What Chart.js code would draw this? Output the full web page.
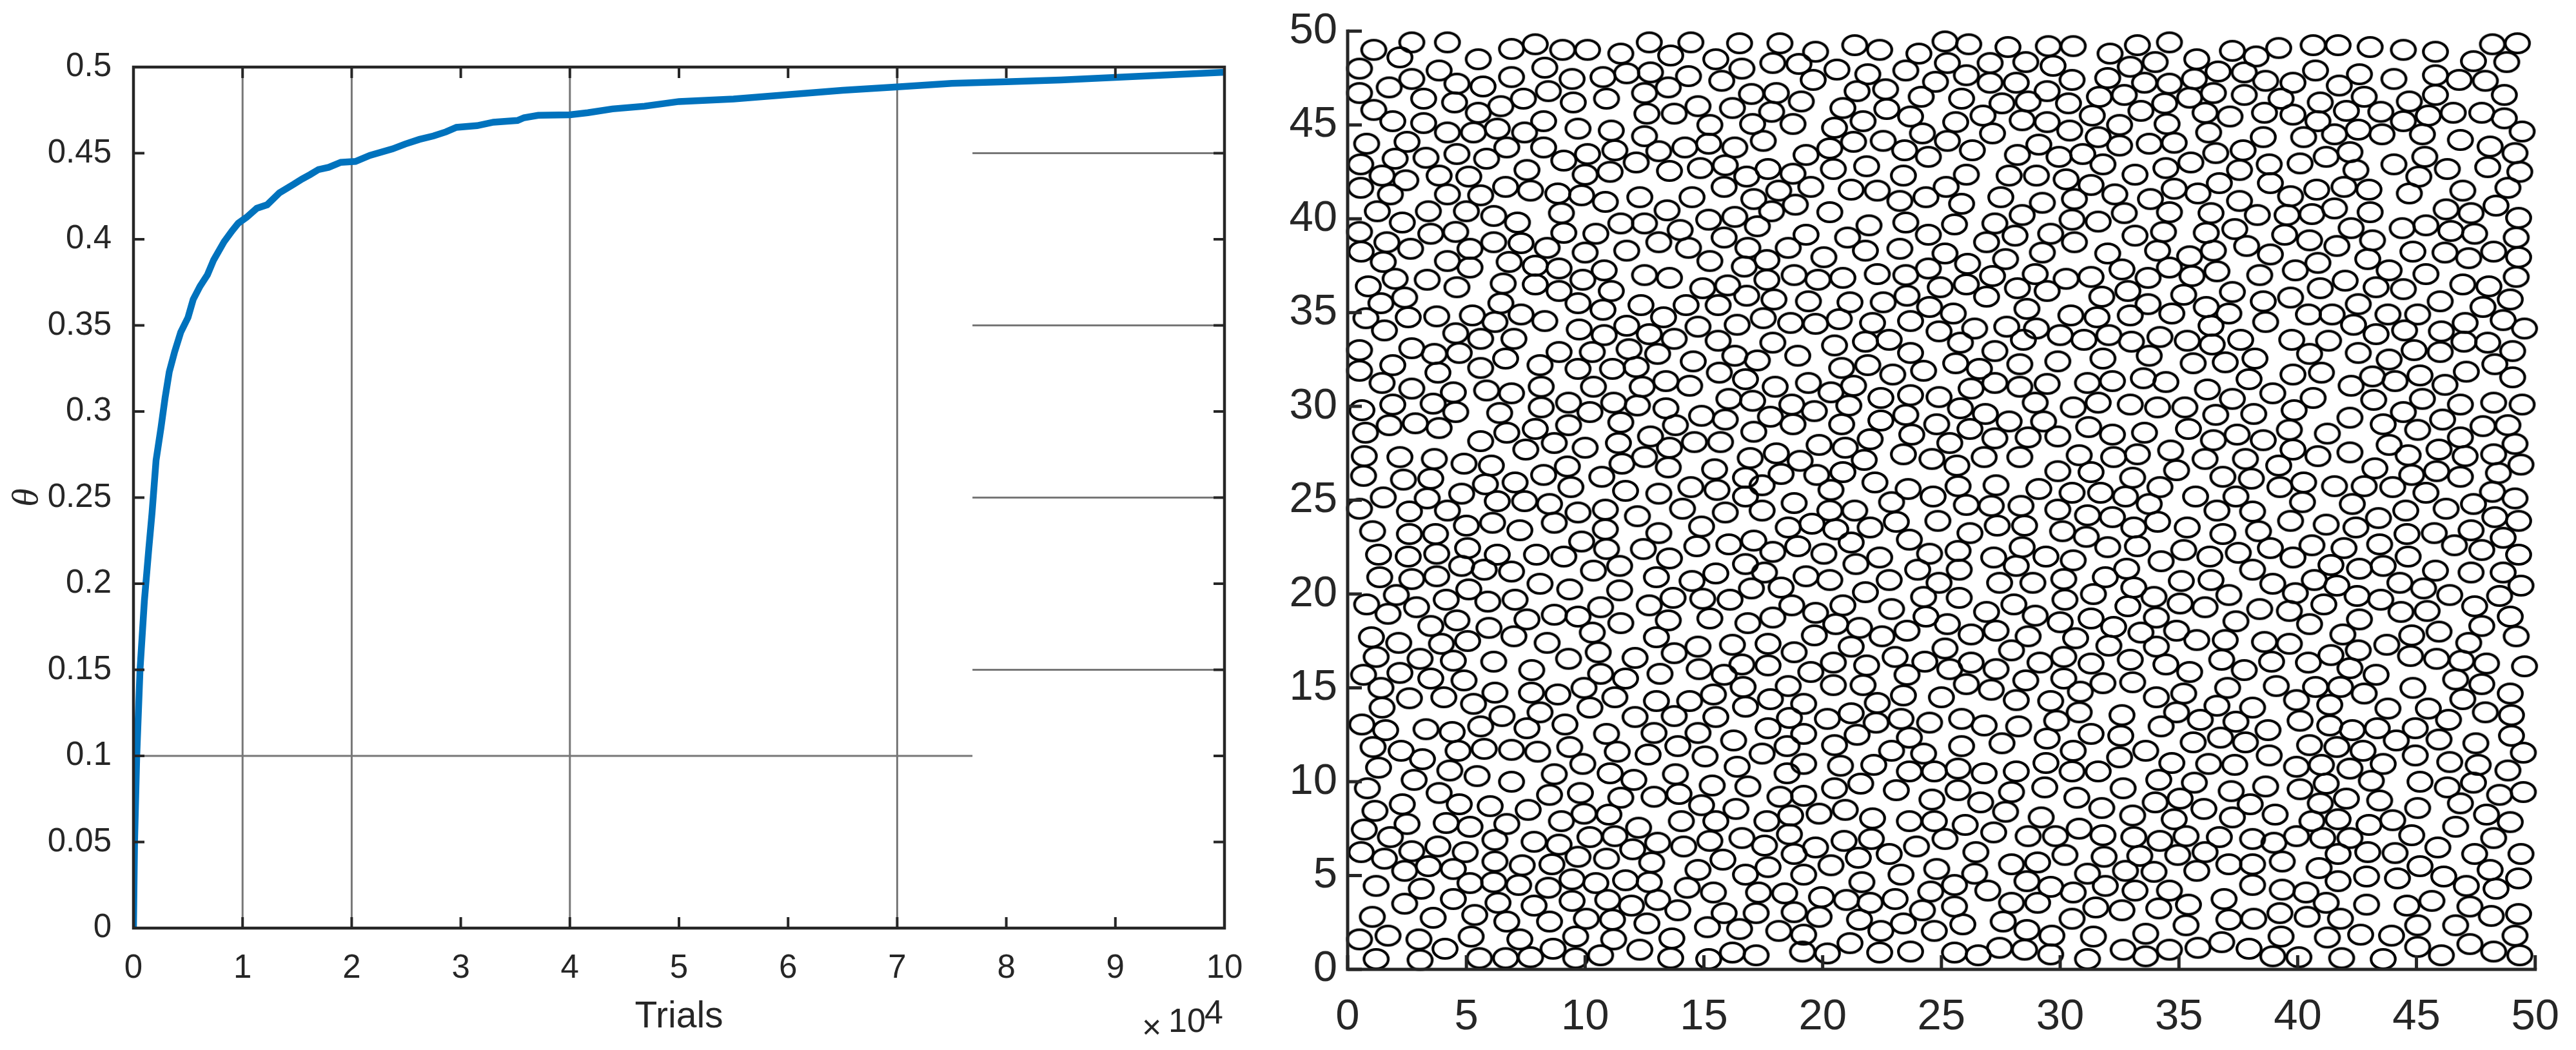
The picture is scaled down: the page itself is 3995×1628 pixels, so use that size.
<!DOCTYPE html>
<html>
<head>
<meta charset="utf-8">
<script src="https://cdn.jsdelivr.net/npm/chart.js@4"></script>
<style>
  html, body { margin: 0; padding: 0; background: #fff; overflow: hidden; }
  canvas { position: absolute; top: 0; }
  #curve-chart { left: 0; }
  #packing-chart { left: 2000px; }
</style>
</head>
<body>
<canvas id="curve-chart" width="1980" height="1628"></canvas>
<canvas id="packing-chart" width="1995" height="1628"></canvas>
<script>
// left panel, x in units of 10^4 trials
const trialsX = [0,0.01,0.03,0.06,0.1,0.14,0.17,0.207,0.2525,0.29,0.328,0.377,0.433,0.5,0.547,0.61,0.678,0.735,0.83,0.905,0.96,1.037,1.13,1.225,1.338,1.47,1.545,1.62,1.696,1.79,1.9,2.035,2.167,2.375,2.49,2.62,2.75,2.865,2.96,3.15,3.3,3.52,3.58,3.71,4,4.165,4.39,4.685,5,5.5,6,6.5,7,7.5,8,8.5,9,9.5,10];
const thetaY = [0,0.05,0.1,0.15,0.19,0.22,0.241,0.2716,0.2907,0.308,0.323,0.3346,0.346,0.3546,0.365,0.3727,0.3794,0.388,0.3985,0.405,0.4093,0.4128,0.418,0.42,0.427,0.432,0.435,0.4376,0.4405,0.4418,0.4447,0.4452,0.4487,0.4525,0.4553,0.458,0.46,0.4624,0.465,0.466,0.468,0.469,0.4706,0.472,0.4723,0.4735,0.4757,0.4773,0.48,0.4815,0.484,0.4865,0.4885,0.4905,0.4915,0.4925,0.494,0.4955,0.497];
const leftXLabels = ['0','1','2','3','4','5','6','7','8','9','10'];
const leftYLabels = ['0','0.05','0.1','0.15','0.2','0.25','0.3','0.35','0.4','0.45','0.5'];
const gridTrials = [1,2,4,7];
const gridThetaFull = [0.1];
const gridThetaRight = [0.15,0.25,0.35,0.45];
const gridBreakX = 7.69;

// right panel, circle centres
const packingLabels = ['0','5','10','15','20','25','30','35','40','45','50'];
const circles = [
[2.7,49.4],[4.2,49.4],[1.1,49],[2.2,48.6],[0.5,48],[5.5,48.5],[6.9,49.05],[7.9,49.3],[9.05,49],[10.1,49],[11.5,48.8],[12.7,49.4],[13.6,48.7],[14.45,49.4],[15.5,48.5],[16.5,49.35],[8.3,48.05],[3.85,47.9],[2.7,47.45],[1.75,47],[0.5,46.7],[4.6,47.2],[5.7,47.05],[6.9,47.55],[9.45,47.45],[10.75,47.55],[11.75,47.75],[12.75,47.8],[14.35,47.6],[13.5,47],[12.5,46.7],[15.75,47.35],[8.45,46.8],[7.4,46.4],[3.2,46.4],[4.5,46.2],[6.45,46],[5.5,45.65],[9.5,46.2],[10.9,46.4],[1.1,45.8],[1.9,45.2],[3.2,45.1],[12.6,45.6],[13.75,45.6],[14.75,46],[16.2,45.9],[8.25,45.2],[15.25,45],[9.7,44.8],[11.1,44.7],[6.3,44.8],[4.2,44.6],[5.3,44.6],[7.45,44.6],[12.5,44.4],[2.5,44.1],[0.8,44],[6.7,43.8],[8.25,43.8],[14.2,43.8],[15.2,44],[16.3,43.8],[13.1,43.6],[11.25,43.65],[10.1,43.45],[4.6,43.45],[3.3,43.25],[2,43.2],[5.85,43.2],[9.1,43.1],[0.55,42.9],[12.15,43],[15.9,42.85],[14.85,42.7],[13.55,42.55],[7.55,42.6],[11.05,42.5],[10,42.35],[1.45,42.3],[3.85,42.3],[5.1,42.25],[2.45,42.05],[15.85,41.7],[0.55,41.65],[6.65,41.7],[7.7,41.5],[8.85,41.35],[9.85,41.25],[1.8,41.3],[4.2,41.3],[5.6,41.25],[10.85,40.9],[12.3,41.15],[14.5,41.15],[13.45,40.45],[1.25,40.4],[3.4,40.4],[5,40.4],[9,40.3],[6.15,40.15],[15.2,39.95],[16.3,40.1],[7.15,39.8],[2.3,39.8],[11.5,39.75],[12.5,39.75],[14,39.4],[0.5,39.3],[4.55,39.3],[3.5,39.2],[9.1,39.25],[10.45,39.2],[15.85,39],[1.65,38.75],[6.15,38.75],[7.3,38.7],[13.1,38.75],[2.65,38.4],[0.57,38.25],[5.15,38.4],[8.4,38.45],[14.35,38.45],[11.75,38.3],[10,38.2],[15.25,37.75],[1.5,37.7],[4.2,37.75],[6.8,37.7],[7.9,37.5],[5.15,37.4],[8.9,37.35],[10.8,37.25],[12.5,37],[13.55,36.85],[2,36.8],[3.35,36.75],[9.9,36.75],[6.55,36.55],[7.9,36.5],[0.87,36.4],[4.6,36.35],[14.95,36.3],[16,36.45],[8.9,36.15],[11.1,36.15],[2.4,35.8],[1.4,35.5],[6.45,35.5],[9.7,35.5],[12.35,35.4],[14.25,35.4],[15.6,35.4],[10.75,35.15],[7.3,34.9],[5.25,34.85],[0.77,34.7],[2.55,34.75],[3.75,34.8],[6.2,34.5],[8.3,34.55],[13.3,34.75],[11.75,34.3],[14.75,34.25],[16.4,34.35],[9.75,34.1],[1.55,34.05],[4.55,33.9],[10.8,33.8],[12.7,33.85],[5.6,33.6],[7,33.6],[13.75,33.6],[15.6,33.5],
[0.5,33],[2.7,33.1],[3.65,32.8],[4.7,32.85],[8.9,32.9],[10.3,32.9],[11.85,33.05],[13.05,32.8],[14.55,32.4],[16.3,32.7],[6.65,32.55],[1.9,32.2],[0.5,31.9],[3.8,31.8],[5.6,32.05],[8.1,32.2],[9.7,32],[11.15,32],[12.15,32.1],[15.65,31.8],[1.45,31.25],[2.7,30.95],[13.4,31.35],[14.4,31.1],[12.4,31.05],[10.35,31.05],[8.15,31.05],[5.85,30.85],[6.9,30.7],[4.45,30.75],[16.05,30.4],[9.3,30.2],[11.2,30.2],[3.6,30.15],[1.9,30.1],[12.2,30.05],[8.15,29.95],[13.4,29.9],[0.6,29.8],[4.55,29.7],[10.2,29.7],[6.4,29.65],[14.9,29.5],[15.9,29.3],[2.85,29.1],[1.75,29],[11.5,29.15],[3.85,28.85],[13.8,29],[9.3,29],[7.9,28.8],[0.75,28.6],[6.7,28.6],[12.75,28.4],[5.6,28.15],[8.7,28.05],[11.4,28.05],[14.6,28.1],[15.7,28.1],[10,27.8],[13.55,27.8],[7.5,27.7],[0.7,27.35],[2.2,27.3],[12.5,27.3],[3.65,27.2],[11.55,26.95],[4.9,26.95],[6.05,26.85],[9.25,26.8],[13.5,26.75],[15.45,26.65],[8.25,26.35],[0.67,26.3],[10.7,26.25],[3.5,26.15],[2.35,26.1],[5.8,25.85],[7.05,25.95],[9.4,25.7],[14.45,25.7],[15.55,25.55],[11.7,25.5],[13.1,25.35],[4.8,25.35],[1.5,25.15],[3.35,25.1],[6.3,24.95],[7.45,24.95],[8.5,24.8],[0.5,24.55],[2.6,24.4],[10.85,24.5],[9.7,24.35],[4.2,24.45],[14.1,24.55],[15.9,24.35],[12.2,24.15],[6.1,23.8],[8.7,23.8],[5,23.65],[14.9,23.6],[1.05,23.35],[7.25,23.4],[10.85,23.45],[2.6,23.2],[3.7,23.2],[13.1,23.25],[9.85,22.8],[16.05,22.65],[14.7,22.55],[5.05,22.45],[10.9,22.4],[12.45,22.4],[1.3,22.1],[7.95,22.1],[2.55,22],[3.75,22.15],[6.3,22.1],[9.1,22],[13.55,21.9],[4.8,21.5],[11.45,21.5],[5.75,21.3],[6.9,21.2],[10.35,21.25],[15.5,21.1],[1.35,20.9],[3.75,20.95],[2.7,20.8],[13,20.9],[14.5,20.7],[8.1,20.55],[5.1,20.25],[9.35,20.25],[11.45,20.2],[2.05,19.95],[13.7,19.8],[14.95,19.75],[16.1,19.7],[4.15,19.7],[7.05,19.7],[5.9,19.6],[0.8,19.45],[12.7,19.4],[10.65,19.3],[2.9,19.3],[1.7,18.95],[8.7,18.9],[9.7,18.8],[15.25,18.7],[7.55,18.65],[4.6,18.6],[13.5,18.6],[11.5,18.45],[5.95,18.2],[3.5,18.3],[10.3,17.95],[7,17.75],[1,17.7],[13,17.7],[5.05,17.5],[8.4,17.4],[3.95,17.35],[2.15,17.4],[14.75,17.2],[16.2,17.3],[10.55,16.9],[1.2,16.65],[3.05,16.55],[13.75,16.85],[12.1,16.6],[9.3,16.55],[6.15,16.4],[4.45,16.45],
[16.6,16.25],[17.7,16.2],[14.8,16],[0.67,15.7],[2.2,15.8],[3.5,15.5],[4.9,15.4],[7.75,15.95],[10.65,15.75],[11.7,15.5],[13.15,15.75],[15.85,15.7],[18.55,15.1],[16.65,15.05],[1.4,15],[9.95,15],[6.2,14.75],[7.74,14.75],[8.85,14.65],[15.4,14.65],[2.6,14.45],[4.05,14.5],[11.25,14.5],[13,14.3],[14.4,14.3],[17.8,14.4],[5.3,14.15],[1.45,13.95],[10.2,13.95],[16.75,14],[19.2,14.15],[8.1,13.7],[6.5,13.5],[12.1,13.45],[13.75,13.5],[15.5,13.45],[18.6,13.4],[0.6,13.05],[9.15,13.05],[5.6,12.95],[7.55,12.85],[1.6,12.75],[3.3,12.8],[4.4,12.65],[10.9,12.55],[12.9,12.6],[14.75,12.6],[17.7,12.85],[16.25,12.2],[19.2,12.55],[1.07,11.85],[9.35,11.85],[13.9,11.9],[18.5,11.9],[5.75,11.75],[2.25,11.65],[6.9,11.7],[4.65,11.65],[8,11.6],[11.35,11.6],[12.65,11.45],[17.45,11.5],[15.05,11.35],[3.15,11.2],[9.9,10.95],[19.2,10.95],[16.4,10.8],[1.3,10.75],[4.3,10.6],[11.05,10.45],[13.8,10.4],[18.5,10.45],[8.7,10.4],[5.45,10.3],[12.05,10.1],[2.8,10.1],[6.9,10],[15.35,9.8],[16.85,9.75],[0.83,9.65],[3.85,9.4],[9.8,9.4],[13.95,9.35],[8.5,9.3],[12.9,9.2],[11.5,9.15],[18.2,9.2],[19.2,9.25],[2.3,8.8],[4.7,8.8],[14.9,8.75],[6,8.7],[1.15,8.45],[7.6,8.5],[16.35,8.55],[9.95,8.3],[11,8.25],[18.65,8.2],[9,7.9],[14.05,7.9],[15.5,7.9],[17.65,7.9],[2.5,7.75],[4.15,7.8],[6.7,7.75],[5.15,7.6],[12.25,7.55],[0.7,7.45],[18.6,7.2],[1.8,7.05],[10.2,7.05],[11.25,7.1],[16.6,7],[6.2,6.9],[15.25,6.85],[7.85,6.8],[13.05,6.75],[8.9,6.65],[14.15,6.55],[17.55,6.6],[3.8,6.55],[12,6.4],[0.57,6.25],[2.7,6.3],[4.95,6.25],[18.8,6.15],[1.55,5.9],[9.7,6],[10.9,5.9],[15.8,5.85],[6.2,5.75],[12.8,5.7],[7.35,5.55],[8.6,5.6],[3.4,5.5],[17.7,5.45],[2.4,5.25],[4.45,5.35],[14.75,5.3],[16.75,5.05],[19.2,5.05],[9.45,4.8],[11.7,4.75],[6.15,4.65],[5.15,4.6],[12.7,4.65],[10.45,4.6],[7.2,4.5],[1.2,4.45],[3.1,4.3],[8.45,4.35],[14.3,4.35],[15.4,4.1],[17.3,4.1],[18.4,4.05],[4.45,3.75],[13.05,3.7],[10.95,3.7],[9.45,3.65],[6.33,3.55],[2.4,3.5],[7.85,3.4],[11.95,3.4],[13.9,3.15],[15.85,3],[17.2,3],[18.8,3.05],[10.05,2.7],[1.04,2.8],[5.35,2.9],[3.6,2.75],[11.15,2.65],[6.7,2.55],[8.5,2.55],[12.6,2.45],[15.15,2.25],[16.5,2.15],[18.15,2.05],[1.7,1.8],[9.6,1.75],[5.2,1.75],[13.65,1.65],[7.25,1.6],[11.2,1.6],[3,1.6],[0.5,1.6],[19.2,1.85],[4.1,1.1],[8.65,1.1],[12.3,1.05],[10.65,0.75],[16.2,0.9],[17.2,0.75],[19.15,0.95],[5.55,0.6],[6.65,0.6],[7.7,0.65],[1.2,0.55],[3.05,0.5],[9.6,0.6],[13.6,0.6],[15.2,0.55],
[19.5,15.85],[20.45,16.35],[21.85,16.2],[23.55,15.7],[24.3,16.4],[25.35,16],[26.25,16.35],[27.3,16],[29.15,16.35],[31.3,16.3],[32.95,16.5],[34.45,16.25],[35.45,15.85],[36.8,16.5],[37.75,15.95],[20.45,15.15],[21.7,15.15],[30.15,15.5],[31.8,15.25],[33.05,15.3],[28.55,15.4],[26.05,15.2],[27.1,14.9],[37.05,15],[35.2,14.7],[23.4,14.6],[25,14.5],[30.85,14.8],[34.05,14.5],[22.3,14.2],[29.6,14.3],[28.15,14.35],[36.6,14.05],[38.1,13.95],[34.9,13.7],[30.8,13.7],[32.6,13.55],[21.2,13.65],[20.2,13.35],[23.3,13.35],[25.85,13.35],[29.85,13.25],[35.9,13.3],[37.4,13.2],[22.25,13.15],[24.5,13.15],[26.8,13],[28.25,12.95],[34.25,12.95],[31.3,12.55],[21.45,12.5],[32.55,12.45],[29.45,12.3],[23.65,12.35],[36.75,12.35],[27.55,12.05],[35.6,12.1],[37.8,12.1],[20.5,11.95],[25.85,11.9],[22.9,11.65],[30.55,11.65],[33.6,11.65],[24.25,11.5],[32.5,11.3],[29.4,11],[34.7,11],[36.25,10.95],[37.35,10.9],[22.15,10.9],[20.75,10.85],[25.7,10.7],[28.15,10.55],[26.8,10.45],[30.5,10.55],[24.7,10.55],[23.65,10.55],[31.6,10.55],[34.15,10.1],[35.65,9.95],[21.6,9.9],[29.35,9.7],[32.65,9.65],[20.5,9.65],[25.7,9.55],[23.1,9.55],[37.2,9.5],[27.95,9.45],[35.05,9.1],[30.7,9.15],[24.6,9.05],[34,8.9],[26.65,8.9],[38,8.8],[31.75,8.6],[36.05,8.55],[20.95,8.5],[27.7,8.4],[19.85,8.3],[33.05,8.2],[37.25,8.1],[29.2,8.1],[22.1,8.05],[34.8,8],[23.65,7.9],[24.7,7.9],[26,7.7],[30.8,7.5],[27.2,7.3],[31.8,7.15],[35.3,7.1],[29.8,7.1],[33.1,7.05],[36.7,7.05],[28.65,7.1],[22.05,6.95],[25.15,6.95],[38.1,6.95],[20.9,6.85],[34.2,6.85],[23.95,6.55],[19.7,6.5],[26.45,6.25],[36.1,6.25],[33.35,6.05],[22.8,6.15],[34.95,6.1],[30.2,6.1],[31.85,6],[21.5,5.95],[29.05,5.7],[27.95,5.6],[37.1,5.6],[38.1,5.6],[20.35,5.55],[24.8,5.35],[32.75,5.25],[33.95,5.2],[35.75,5.25],[31.15,5.1],[23.3,5.05],[26.4,5.1],[28.6,4.7],[21.65,4.65],[38.1,4.5],[25.55,4.5],[29.6,4.4],[31.9,4.45],[33.15,4.2],[24.55,4.15],[34.6,4.2],[26.95,4.2],[30.55,4.1],[36.9,3.75],[19.95,3.85],[23.05,3.75],[21,3.7],[22,3.55],[27.95,3.55],[29.05,3.55],[35.4,3.45],[25.55,3.35],[31.5,3.3],[32.6,3.15],[24.2,3.15],[34.15,3.25],[19.85,2.8],[30.5,2.7],[21.55,2.65],[37.1,2.65],[38.15,2.7],[27.6,2.55],[23.4,2.45],[25.9,2.4],[35.3,2.35],[28.6,2.1],[22.45,2.05],[24.7,2.05],[33.6,1.9],[29.65,1.8],[31.4,1.75],[21.15,1.4],[36.8,1.45],[27.45,1.15],[35.8,1.15],[37.95,1.1],[32.65,1.05],[34.6,1.05],[28.5,1.05],[23.7,0.95],[25.55,0.9],[22.4,0.9],[20.2,0.85],[29.6,0.8],[26.55,0.75],[33.6,0.7],[31.15,0.55],
[18.2,49.35],[19.7,48.9],[21.35,49.25],[22.4,49],[24.05,48.8],[25.15,49.45],[26.15,49.3],[27.8,49.15],[29.5,49.2],[30.55,49.2],[32.1,48.8],[33.25,49.25],[17.9,48.3],[19,48.25],[25.25,48.3],[27.05,48.3],[28.55,48.35],[29.7,48.15],[32.95,48.1],[16.6,48],[20.6,47.95],[23.5,47.9],[21.9,47.7],[26.05,47.65],[19.6,47.4],[24.75,47.3],[32,47.5],[27.05,47.25],[28.15,47.25],[30.5,47.4],[22.65,46.9],[21.45,46.8],[29.45,46.8],[17,46.65],[18.05,46.7],[32.7,46.6],[31.65,46.5],[24.15,46.5],[25.85,46.4],[19.1,46.25],[27.55,46.15],[28.65,46.25],[30.35,46.15],[20.85,45.9],[22.7,45.85],[17.85,45.7],[33.4,45.75],[31.35,45.5],[23.7,45.45],[26.75,45.5],[28.4,45.25],[21.7,45.2],[25.6,45.15],[29.45,45.15],[17.05,45.05],[18.75,45.05],[20.5,44.85],[32.5,45],[30.4,44.7],[27.15,44.55],[24.2,44.55],[31.6,44.35],[17.5,44.15],[22.55,44.15],[21.3,44.1],[25.25,44.15],[29.1,43.95],[20.3,43.75],[32.5,43.9],[23.45,43.65],[26.3,43.65],[19.3,43.4],[28.2,43.4],[30.95,43.45],[29.95,43.3],[24.45,43.3],[31.8,42.9],[21.85,42.8],[17.7,42.65],[20.45,42.65],[23.4,42.3],[18.75,42.4],[26.05,42.35],[27.85,42.3],[29,42.3],[33.15,42.35],[16.8,42.25],[30.25,42.1],[19.5,41.7],[25.2,41.7],[31.3,41.8],[21.2,41.55],[22.3,41.5],[18.15,41.5],[24.35,41.15],[27.5,41.15],[32.3,41.3],[17.1,41.05],[23.25,40.95],[30.6,41.05],[29.25,40.85],[18.85,40.75],[25.85,40.8],[17.85,40.4],[20.3,40.35],[28.4,40.2],[32.7,40.3],[30.5,39.95],[31.6,39.85],[23.5,39.8],[27.25,39.75],[25.55,39.7],[21.95,39.65],[17.25,39.6],[29.6,39.2],[28.1,39.1],[19.3,39.15],[33.15,39.1],[24.45,39.15],[21.05,39],[26.9,38.75],[30.6,38.75],[18.55,38.45],[16.85,38.45],[23.25,38.4],[21.8,38.3],[29.25,38.2],[25.15,38.15],[32,38.15],[20.05,37.95],[27.7,37.85],[17.65,37.8],[26.1,37.6],[24.45,37.35],[32.6,37.3],[16.7,37.45],[28.95,37.05],[22.3,37.05],[23.5,37],[18.8,37],[27.15,36.95],[30.25,36.8],[31.3,36.9],[20.85,36.85],[19.8,36.75],[17.65,36.75],[26.05,36.5],[24.95,36.35],[28.2,36.3],[32.85,36.15],[29.45,36.15],[31.75,35.85],[23.55,35.9],[16.8,35.9],[26.9,35.85],[21.15,35.55],[22.55,35.55],[17.95,35.7],[19.4,35.6],[24.5,35.3],[28.6,35.2],[30.45,34.85],[31.55,34.75],[25.5,34.95],[32.95,34.85],[23.7,34.55],[17.5,34.7],[20.7,34.65],[19.7,34.4],[18.65,34.45],[22.1,34.45],[27.75,34.25],[29,34.15],[26.4,34.15],[24.9,34],[30,33.8],[32.05,33.8],[17.9,33.4],[21.8,33.45],[22.8,33.55],[20.5,33.25],[25.8,33.4],[28.45,33.55],[31,33.55],[33,33.45],
[27.25,32.95],[23.7,32.85],[18.95,32.7],[17.25,32.45],[29.9,32.4],[31.8,32.55],[25.6,32.3],[28.3,32.25],[20.8,32.05],[21.9,32.2],[26.6,32],[24.25,31.9],[22.95,31.7],[32.2,31.35],[16.75,31.45],[31.15,31.25],[29.45,31.2],[19.4,31.25],[21.3,31.1],[18,31.05],[27.25,31.25],[28.3,31.05],[26.25,30.95],[20.35,30.75],[23.7,30.6],[22.45,30.45],[24.9,30.5],[17.05,30.3],[28.95,30.2],[31.6,30.2],[32.95,30.1],[18.7,30.1],[21.1,30.05],[30.55,29.95],[25.8,29.9],[19.65,29.75],[26.85,29.6],[23.5,29.55],[17.8,29.45],[22.45,29.25],[29.3,29.2],[27.85,29.2],[24.8,29.05],[18.75,29.05],[20.8,29.05],[31.2,28.9],[26.2,28.8],[17.1,28.65],[32.2,28.5],[23.75,28.5],[27.25,28.3],[28.65,28.35],[29.9,28.4],[22,28.25],[25.35,28.05],[19.85,27.95],[20.95,27.8],[18.05,27.5],[16.95,27.25],[23.4,27.45],[30.8,27.4],[32.25,27.3],[33.25,27.45],[26.8,27.3],[28.3,27.3],[24.6,27.2],[19.05,27.1],[21.75,27.15],[25.65,26.85],[29.9,26.55],[20.85,26.5],[31.3,26.5],[18.25,26.4],[19.75,26.35],[33.05,26.2],[16.75,26.2],[22.2,25.95],[25.7,25.75],[17.45,25.8],[27.3,25.8],[23.6,25.6],[29.1,25.6],[20.35,25.55],[30.5,25.4],[31.7,25.4],[24.65,25.2],[32.75,25.2],[16.75,25.2],[18.8,24.85],[22.9,24.9],[26.05,24.75],[27.1,24.7],[28.35,24.7],[21.35,24.45],[20.3,24.45],[29.9,24.5],[17.45,24.45],[31.15,24.2],[32.2,24.1],[24.85,23.9],[23.1,23.85],[19.55,23.75],[27.35,23.65],[28.5,23.65],[18.55,23.55],[22,23.55],[20.55,23.45],[33.1,23.55],[30.1,23.35],[26.2,23.25],[31.1,23.05],[17.1,22.85],[23.65,22.9],[21.2,22.75],[18.95,22.55],[28.4,22.5],[32,22.5],[25.7,22.3],[17.9,22.25],[24.5,22.15],[20.05,22.15],[33.25,22.55],[29.4,22],[27.2,21.95],[22.4,21.95],[30.55,21.8],[16.75,21.6],[21.4,21.6],[28.15,21.5],[24,21.3],[25.75,21.3],[32.8,21.35],[17.55,21.15],[31.9,20.9],[19.3,20.95],[20.3,20.75],[22.8,20.75],[30.15,20.8],[24.9,20.6],[28.85,20.6],[27.45,20.6],[33.1,20.35],[17,20.3],[18.25,20.35],[31.4,20],[21.8,20.1],[24.25,19.85],[25.75,19.8],[30.2,19.7],[28.05,19.45],[20.85,19.4],[18.7,19.4],[32.85,19.35],[22.9,19.2],[26.9,19.05],[19.7,19],[17.9,18.75],[24.35,18.8],[28.95,18.85],[16.85,18.45],[31.3,18.7],[30,18.5],[25.25,18.4],[20.55,18.4],[32.25,18.25],[21.55,18.2],[27.3,18.05],[23.55,18.05],[33.4,17.95],[26.25,17.85],[19.65,17.8],[22.5,17.75],[28.65,17.75],[30.65,17.65],[17.7,17.35],[32.05,17.25],[21.2,17.2],[25.15,17.1],[27.95,17],[18.8,16.9],[23.05,16.65],[30.15,16.65],
[34.6,49.4],[37.25,48.95],[39.2,49.1],[40.65,49.25],[41.7,49.25],[43.05,49.15],[44.45,49],[45.8,48.9],[48.2,49.3],[49.25,49.35],[38.25,48.65],[35.75,48.5],[47.4,48.4],[48.8,48.35],[34,48.35],[40.75,47.9],[36.65,47.85],[37.75,47.8],[42.6,47.7],[45.8,47.65],[35.65,47.45],[38.65,47.35],[39.8,47.25],[44.05,47.45],[46.8,47.4],[47.9,47.35],[33.55,47.25],[34.6,47.2],[41.75,47.1],[36.45,46.7],[45.8,46.6],[37.75,46.6],[48.7,46.6],[35.45,46.45],[42.8,46.5],[39.3,46.4],[44.7,46.25],[40.95,46.2],[34.4,46.15],[42.05,45.75],[43.5,45.7],[46.55,45.65],[47.75,45.65],[36.1,45.65],[38.6,45.65],[39.8,45.55],[37.15,45.45],[45.5,45.5],[48.7,45.35],[40.85,45.2],[44.45,45.2],[34.5,45.05],[42.55,44.75],[43.55,44.5],[45.25,44.5],[36.25,44.6],[41.55,44.5],[38.55,44.35],[49.45,44.65],[40.25,44.35],[46.85,44.2],[33.75,44],[34.8,44.05],[48.1,43.85],[37.7,43.65],[42.2,43.55],[36.55,43.5],[49.15,43.5],[41.2,43.3],[45.35,43.3],[35.5,43],[40.1,42.95],[38.8,42.9],[44.05,42.9],[34.45,42.7],[46.3,42.65],[48,42.75],[37.55,42.6],[42.45,42.6],[49.35,42.5],[45.1,42.25],[38.85,41.9],[36.7,41.9],[41.95,41.7],[40.8,41.55],[48.85,41.65],[43,41.55],[34.8,41.6],[46.95,41.5],[35.8,41.35],[44.7,41.35],[39.7,41.2],[33.8,41.05],[37.55,40.95],[48.35,40.7],[41.55,40.55],[46.25,40.5],[34.6,40.35],[36.35,40.3],[43.05,40.35],[47.3,40.3],[38.3,40.2],[39.55,40.2],[40.6,40.25],[49.3,40.05],[45.4,39.65],[44.4,39.5],[42.25,39.5],[37.35,39.45],[46.45,39.35],[34.35,39.3],[47.45,39.2],[36.15,39.25],[39.45,39.15],[40.5,38.85],[49.2,39],[43.15,38.85],[41.65,38.55],[37.85,38.55],[44.85,38.25],[34.1,38.3],[46.2,38.2],[48.25,38.25],[36.45,38.3],[38.85,38.1],[35.45,38],[47.2,37.9],[49.3,37.95],[42.95,37.85],[40.85,37.65],[34.6,37.4],[43.85,37.25],[36.6,37.2],[39.9,37.25],[45.4,37.05],[38.4,37],[35.55,36.95],[49.2,36.9],[33.7,36.85],[42,36.7],[46.95,36.5],[48.05,36.4],[43.3,36.35],[44.45,36.25],[40.95,36.3],[37.25,36.1],[35.2,35.95],[39.7,35.8],[48.95,35.7],[46,35.6],[38.55,35.6],[42.55,35.45],[33.7,35.45],[36.15,35.3],[47.8,35.3],[34.7,34.95],[37.1,34.95],[43.8,34.9],[40.45,34.9],[41.45,34.9],[45.05,34.9],[38.65,34.5],[47.05,34.45],[42.35,34.35],[48.65,34.6],[36.35,34.3],[44.5,34.05],[46.05,34],[49.55,34.15],[43.3,33.85],[34.2,33.7],[35.35,33.5],[37.6,33.55],[39.75,33.55],[41.3,33.5],[36.4,33.3],[47,33.45],[48,33.4],
[33.75,32.7],[35.6,32.3],[36.95,32.35],[38.2,32.55],[40.5,32.8],[42.55,32.85],[43.85,32.5],[44.9,33],[46,32.9],[49.05,32.95],[48.3,32.25],[47.1,31.85],[39.8,31.7],[41,31.8],[43.15,31.6],[44.1,31.35],[45.15,31.65],[49.05,31.55],[37.95,31.45],[34.45,31.3],[33.5,31.5],[42.25,31.1],[46.2,31.15],[36.2,30.9],[38.95,30.7],[40.65,30.45],[37.25,30.4],[43.2,30.35],[45.25,30.4],[46.85,30.1],[48.25,30.2],[49.45,30.1],[34.1,29.95],[35.25,29.95],[39.85,29.8],[44.45,29.7],[36.55,29.55],[38.15,29.6],[46.1,29.3],[42.2,29.4],[43.6,29.05],[47.8,28.95],[48.85,29],[35.4,28.8],[39.65,28.75],[45.05,28.75],[33.55,28.6],[41.25,28.55],[37.45,28.5],[46.85,28.35],[36.45,28.2],[38.55,28.2],[43.85,27.95],[49.15,28],[39.8,27.7],[34.65,27.65],[45.95,27.7],[42.2,27.55],[40.85,27.35],[44.65,27.4],[47.05,27.35],[48.25,27.45],[37.8,27.2],[36.1,27.2],[49.4,26.9],[39.2,26.85],[43.25,26.7],[34.9,26.6],[48.45,26.45],[45.85,26.55],[44.8,26.35],[46.85,26.25],[36.85,26.25],[38.05,26.15],[40.25,25.95],[34.2,25.7],[42.8,25.75],[41.55,25.75],[39.25,25.7],[44,25.7],[45.4,25.4],[48.2,25.45],[37.4,25.2],[35.7,25.2],[49.15,25.1],[40.2,24.9],[33.75,24.8],[42.3,24.8],[47.4,24.8],[46.25,24.55],[44.55,24.45],[36.6,24.45],[38.1,24.4],[48.3,24.1],[43.4,24.05],[49.3,23.9],[39.7,23.9],[34.1,23.85],[41.2,23.7],[35.35,23.55],[42.45,23.55],[47.3,23.4],[38.35,23.35],[44.6,23.2],[45.75,23.25],[36.85,23.2],[48.65,23],[43.45,22.65],[46.6,22.6],[40.6,22.6],[38.85,22.45],[41.95,22.45],[35.2,22.35],[47.75,22.35],[37.5,22.2],[44.65,22],[36.3,22],[49.3,22.1],[39.8,21.95],[34.25,21.75],[41.4,21.55],[43.6,21.5],[42.6,21.35],[38.1,21.3],[45.8,21.25],[47.3,21.15],[48.65,21.15],[36.35,20.75],[40.7,20.75],[35.1,20.7],[44.3,20.6],[38.95,20.55],[41.65,20.45],[49.4,20.45],[45.3,20.3],[39.9,20.05],[37.1,19.95],[46.4,19.95],[42.5,19.9],[48.5,19.9],[43.5,19.7],[33.95,19.85],[35.05,19.5],[41.1,19.45],[47.45,19.35],[36.1,19.3],[38.4,19.2],[39.65,19.1],[44.35,19.05],[45.45,19.1],[42.6,18.65],[34.05,18.75],[48.95,18.8],[37.4,18.55],[47.75,18.3],[40.5,18.4],[34.9,18.05],[45.95,18],[44.8,17.8],[41.9,17.85],[49.2,17.75],[35.75,17.55],[36.95,17.55],[47.2,17.4],[38.6,17.45],[39.65,17.35],[43.75,17.3],[34.05,17.2],[42.55,17],[41.4,16.75],[44.75,16.7],[45.85,16.55],
[38.9,16.4],[46.9,16.45],[47.95,16.3],[49.55,16.15],[40.45,16.35],[42.2,16.05],[43.3,15.7],[46.65,15.45],[47.75,15.2],[39.1,15.1],[40.75,15.05],[41.8,15.05],[44.85,15],[42.8,14.7],[48.95,14.7],[39.95,14.35],[46.95,14.4],[41.35,14.1],[43.8,13.9],[45.5,13.9],[47.9,13.7],[49,13.55],[46.35,13.3],[40.1,13.25],[41.35,13],[44.95,12.85],[43.35,12.85],[42.3,12.75],[38.75,12.75],[49,12.45],[44.15,12.2],[45.95,12.25],[47.5,12.05],[40.5,11.95],[41.65,11.85],[42.75,11.65],[49.5,11.55],[38.8,11.4],[44.95,11.4],[43.6,10.95],[46.4,11.05],[47.6,10.9],[39.95,10.8],[41,10.9],[42.2,10.7],[48.85,10.6],[43.1,10.05],[45.15,10],[38.65,9.75],[41.2,9.9],[47.4,9.95],[40.1,9.6],[46.3,9.7],[48.5,9.3],[49.5,9.45],
[42.05,9.1],[43.45,9],[40.95,8.85],[46.85,8.85],[45.05,8.6],[47.95,8.25],[39.05,8.25],[40.6,7.9],[41.7,8],[43,7.7],[44,7.95],[48.95,7.85],[46.65,7.6],[39.95,7.1],[44.8,7.15],[48.25,7],[41.05,7],[42.2,7],[39,6.75],[45.9,6.5],[41.7,6.15],[42.95,6.25],[44.1,6.2],[47.45,6.15],[49.4,6.15],[39.35,5.75],[45.15,5.5],[40.9,5.4],[48.1,5.3],[46.15,4.95],[42.9,4.95],[44.2,4.85],[41.7,4.7],[49.3,4.85],[47.1,4.45],[48.35,4.3],[39.35,4.25],[40.35,4.1],[41.2,3.55],[42.9,3.45],[45.65,3.65],[44.6,3.4],[47.25,3.35],[39.25,3],[40.4,2.8],[48.15,2.85],[49.3,2.95],[41.8,2.7],[45.05,2.35],[46.65,2.35],[42.65,1.85],[43.95,1.8],[49.15,1.8],[39.3,1.75],[41.25,1.7],[47.25,1.35],[45.05,1.2],[48.25,0.95],[49.35,0.75],[46.05,0.75],[38.95,0.7],[40.05,0.65],[41.85,0.6],[43.6,0.55]
];

const INK = '#262626';

function drawAxes(chart, opts) {
    const { ctx, chartArea: a, scales: { x, y } } = chart;
    ctx.save();
    ctx.strokeStyle = INK;
    ctx.lineWidth = opts.tickWidth;
    ctx.beginPath();
    x.ticks.forEach(t => {
        const px = x.getPixelForValue(t.value);
        ctx.moveTo(px, a.bottom);
        ctx.lineTo(px, a.bottom - opts.tickLen);
        if (opts.box) {
            ctx.moveTo(px, a.top);
            ctx.lineTo(px, a.top + opts.tickLen);
        }
    });
    y.ticks.forEach(t => {
        const py = y.getPixelForValue(t.value);
        ctx.moveTo(a.left, py);
        ctx.lineTo(a.left + opts.tickLen, py);
        if (opts.box) {
            ctx.moveTo(a.right, py);
            ctx.lineTo(a.right - opts.tickLen, py);
        }
    });
    ctx.stroke();
    ctx.lineWidth = opts.lineWidth;
    ctx.lineCap = 'square';
    ctx.beginPath();
    ctx.moveTo(a.left, a.top);
    ctx.lineTo(a.left, a.bottom);
    ctx.lineTo(a.right, a.bottom);
    if (opts.box) {
        ctx.lineTo(a.right, a.top);
        ctx.lineTo(a.left, a.top);
    }
    ctx.stroke();
    ctx.restore();
}

const curveFrame = {
    id: 'curveFrame',
    beforeDatasetsDraw(chart) {
        const { ctx, chartArea: a, scales: { x, y } } = chart;
        const inset = 17;
        ctx.save();
        ctx.strokeStyle = '#777777';
        ctx.lineWidth = 3;
        ctx.beginPath();
        gridTrials.forEach(v => {
            ctx.moveTo(x.getPixelForValue(v), a.top + inset);
            ctx.lineTo(x.getPixelForValue(v), a.bottom - inset);
        });
        gridThetaFull.forEach(v => {
            ctx.moveTo(a.left + inset, y.getPixelForValue(v));
            ctx.lineTo(x.getPixelForValue(gridBreakX), y.getPixelForValue(v));
        });
        gridThetaRight.forEach(v => {
            ctx.moveTo(x.getPixelForValue(gridBreakX), y.getPixelForValue(v));
            ctx.lineTo(a.right - inset, y.getPixelForValue(v));
        });
        ctx.stroke();
        ctx.restore();
    },
    afterDraw(chart) {
        drawAxes(chart, { box: true, tickLen: 17, tickWidth: 4, lineWidth: 4.5 });
        const ctx = chart.ctx;
        ctx.save();
        ctx.fillStyle = INK;
        ctx.textBaseline = 'alphabetic';
        ctx.textAlign = 'left';
        ctx.font = '52px "Liberation Sans"';
        ctx.fillText('\u00d7', 1771, 1610);
        ctx.fillText('10', 1812, 1600);
        ctx.fillText('4', 1868, 1587);
        ctx.restore();
    }
};

const packingFrame = {
    id: 'packingFrame',
    afterDatasetsDraw(chart) {
        drawAxes(chart, { box: false, tickLen: 22, tickWidth: 5, lineWidth: 5 });
    }
};

// one circle of the packing, it comes out flat because the axes are not square
function circleSprite() {
    const c = document.createElement('canvas');
    c.width = 46;
    c.height = 40;
    const g = c.getContext('2d');
    g.strokeStyle = '#000';
    g.lineWidth = 4.2;
    g.beginPath();
    g.ellipse(23, 20, 18.8, 15, 0, 0, Math.PI * 2);
    g.stroke();
    return c;
}

new Chart(document.getElementById('curve-chart'), {
    type: 'scatter',
    data: {
        datasets: [{
            data: trialsX.map((v, i) => ({ x: v, y: thetaY[i] })),
            showLine: true,
            borderColor: '#0072BD',
            borderWidth: 10.5,
            pointRadius: 0,
            tension: 0
        }]
    },
    options: {
        responsive: false,
        animation: false,
        devicePixelRatio: 1,
        layout: { padding: { top: 104, right: 81, left: 0, bottom: 0 } },
        plugins: { legend: { display: false }, tooltip: { enabled: false } },
        scales: {
            x: {
                type: 'linear', min: 0, max: 10,
                grid: { display: false }, border: { display: false },
                afterFit: s => { s.height = 189; },
                ticks: {
                    stepSize: 1, padding: 24, maxRotation: 0, autoSkip: false, color: INK,
                    font: { family: 'Liberation Sans', size: 51 },
                    callback: (v, i) => leftXLabels[i]
                },
                title: {
                    display: true, text: 'Trials', color: INK,
                    font: { family: 'Liberation Sans', size: 57 },
                    padding: { top: 0, bottom: 17 }
                }
            },
            y: {
                type: 'linear', min: 0, max: 0.5,
                grid: { display: false }, border: { display: false },
                afterFit: s => { s.width = 207; },
                ticks: {
                    stepSize: 0.05, padding: 26, autoSkip: false, color: INK,
                    font: { family: 'Liberation Sans', size: 51 },
                    callback: (v, i) => leftYLabels[i]
                },
                title: {
                    display: true, text: '\u03b8', color: INK,
                    font: { family: 'Liberation Serif', size: 58, style: 'italic' },
                    padding: { top: 8, bottom: 0 }
                }
            }
        }
    },
    plugins: [curveFrame]
});

new Chart(document.getElementById('packing-chart'), {
    type: 'scatter',
    data: {
        datasets: [{
            data: circles.map(c => ({ x: c[0], y: c[1] })),
            pointStyle: circleSprite(),
            clip: false
        }]
    },
    options: {
        responsive: false,
        animation: false,
        devicePixelRatio: 1,
        layout: { padding: { top: 43, right: 60, left: 0, bottom: 0 } },
        plugins: { legend: { display: false }, tooltip: { enabled: false } },
        scales: {
            x: {
                type: 'linear', min: 0, max: 50,
                grid: { display: false }, border: { display: false },
                afterFit: s => { s.height = 125; },
                ticks: {
                    stepSize: 5, padding: 26, maxRotation: 0, autoSkip: false, color: INK,
                    font: { family: 'Liberation Sans', size: 67 },
                    callback: (v, i) => packingLabels[i]
                }
            },
            y: {
                type: 'linear', min: 0, max: 50,
                grid: { display: false }, border: { display: false },
                afterFit: s => { s.width = 90; },
                ticks: {
                    stepSize: 5, padding: 8, autoSkip: false, color: INK,
                    font: { family: 'Liberation Sans', size: 67 },
                    callback: (v, i) => packingLabels[i]
                }
            }
        }
    },
    plugins: [packingFrame]
});
</script>
</body>
</html>
